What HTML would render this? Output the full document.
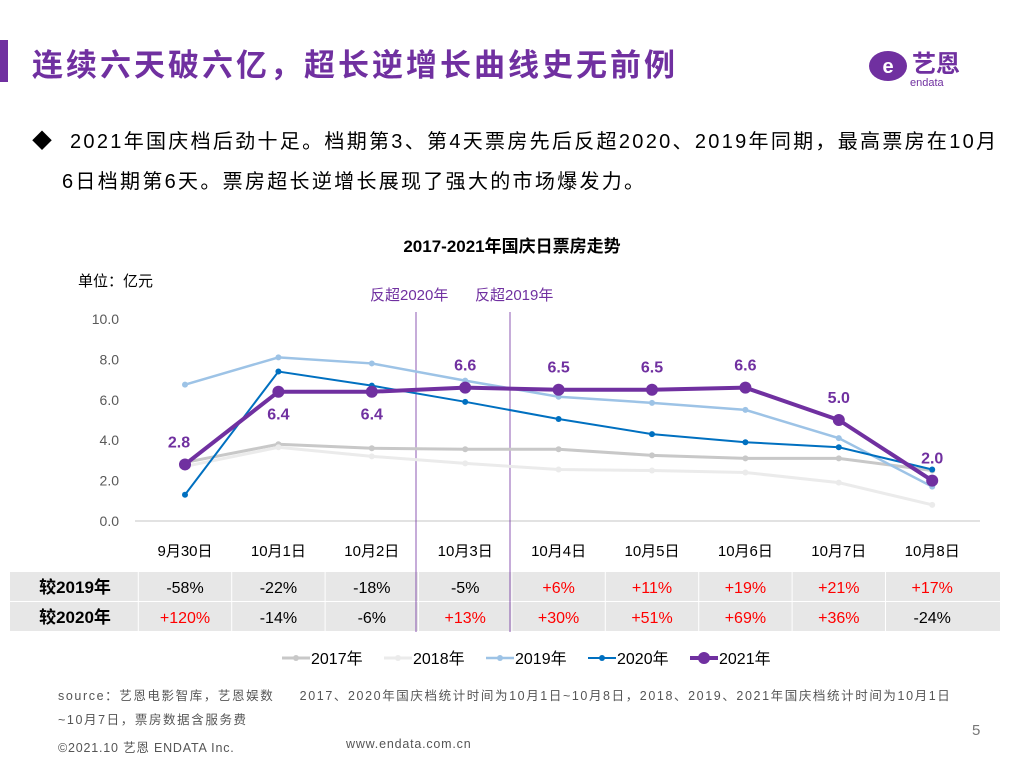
<!DOCTYPE html>
<html><head><meta charset="utf-8"><style>
body{margin:0;width:1024px;height:768px;background:#fff;font-family:"Liberation Sans","Noto Sans CJK SC",sans-serif;position:relative;overflow:hidden}
.a{position:absolute;white-space:nowrap}
</style></head><body>
<div class="a" style="left:0;top:40px;width:8px;height:42px;background:#7030a0"></div>
<div class="a" style="left:32px;top:40px;font-size:31px;letter-spacing:3px;font-weight:bold;color:#7030a0">连续六天破六亿，超长逆增长曲线史无前例</div>
<div class="a" style="left:866px;top:40px;width:120px;height:50px">
<svg width="120" height="50"><ellipse cx="22" cy="26" rx="19" ry="15" fill="#7030a0"/><text x="22" y="33" font-size="20" fill="#fff" text-anchor="middle" font-family="Liberation Sans" font-weight="bold">e</text><text x="46" y="32" font-size="24" fill="#7030a0" font-weight="bold" font-family="Noto Sans CJK SC">艺恩</text><text x="44" y="46" font-size="11" fill="#7030a0" font-family="Liberation Sans">endata</text></svg></div>
<div class="a" style="left:32px;top:122px;font-size:20px;letter-spacing:2.3px;line-height:40px;color:#000;white-space:nowrap">◆&nbsp; 2021年国庆档后劲十足。档期第3、第4天票房先后反超2020、2019年同期，最高票房在10月<br><span style="padding-left:30px">6日档期第6天。票房超长逆增长展现了强大的市场爆发力。</span></div>
<div class="a" style="left:0;width:1024px;text-align:center;top:232px;font-size:17px;font-weight:bold;color:#000">2017-2021年国庆日票房走势</div>
<div class="a" style="left:78px;top:270px;font-size:15px">单位：亿元</div>
<svg class="a" style="left:0;top:0" width="1024" height="768" id="ch"></svg>
<div class="a" style="left:58px;top:684px;font-size:12.5px;letter-spacing:1.6px;color:#555;line-height:24px">source：艺恩电影智库，艺恩娱数&nbsp;&nbsp;&nbsp;&nbsp;&nbsp;2017、2020年国庆档统计时间为10月1日~10月8日，2018、2019、2021年国庆档统计时间为10月1日<br>~10月7日，票房数据含服务费</div>
<div class="a" style="left:58px;top:737px;font-size:12.5px;letter-spacing:0.8px;color:#555">©2021.10 艺恩 ENDATA Inc.</div>
<div class="a" style="left:346px;top:737px;font-size:12.5px;letter-spacing:0.8px;color:#555">www.endata.com.cn</div>
<div class="a" style="left:972px;top:722px;font-size:15px;color:#777">5</div>
<script>
const categories=["9月30日","10月1日","10月2日","10月3日","10月4日","10月5日","10月6日","10月7日","10月8日"];
const yTicks=[0,2,4,6,8,10];
const s2017=[2.9,3.8,3.6,3.55,3.55,3.25,3.1,3.1,2.5];
const s2018=[2.7,3.65,3.2,2.85,2.55,2.5,2.4,1.9,0.8];
const s2019=[6.75,8.1,7.8,6.95,6.15,5.85,5.5,4.1,1.7];
const s2020=[1.3,7.4,6.7,5.9,5.05,4.3,3.9,3.65,2.55];
const s2021=[2.8,6.4,6.4,6.6,6.5,6.5,6.6,5.0,2.0];
const vs2019=["-58%","-22%","-18%","-5%","+6%","+11%","+19%","+21%","+17%"];
const vs2020=["+120%","-14%","-6%","+13%","+30%","+51%","+69%","+36%","-24%"];
const NS="http://www.w3.org/2000/svg",svg=document.getElementById('ch');
const x=i=>185+i*93.4, y=v=>521-v*20.2;
function el(t,a,txt){const e=document.createElementNS(NS,t);for(const k in a)e.setAttribute(k,a[k]);if(txt!=null)e.textContent=txt;svg.appendChild(e);return e;}
let e;
yTicks.forEach(t=>{e=el('text',{x:119,y:y(t)+5,'text-anchor':'end','font-size':14,fill:'#595959'},t.toFixed(1));
});
e=el('line',{x1:135,x2:980,y1:521,y2:521,stroke:'#d9d9d9','stroke-width':1.5});

categories.forEach((c,i)=>{e=el('text',{x:x(i),y:556,'text-anchor':'middle','font-size':15,fill:'#000'},c);
});
for(let r=0;r<2;r++){const yy=572+r*30;
e=el('rect',{x:10,y:yy,width:990,height:29,fill:'#e7e7e7'});
e=el('text',{x:75,y:yy+21,'text-anchor':'middle','font-size':17,'font-weight':'bold'},r?"较2020年":"较2019年");

(r?vs2020:vs2019).forEach((v,i)=>{e=el('text',{x:x(i),y:yy+21,'text-anchor':'middle','font-size':16,fill:v[0]=='+'?'#ff0000':'#000'},v);
});}
for(let i=0;i<=8;i++){e=el('line',{x1:x(i)-46.7,x2:x(i)-46.7,y1:572,y2:631,stroke:'#fff','stroke-width':1});}
e=el('line',{x1:10,x2:1000,y1:601.5,y2:601.5,stroke:'#fff','stroke-width':1});
[[416,"反超2020年"],[510,"反超2019年"]].forEach(([xx,l],k)=>{
e=el('line',{x1:xx,x2:xx,y1:312,y2:632,stroke:'#7030a0','stroke-width':0.8});
e=el('text',{x:k?475:370,y:300,'font-size':15,fill:'#7030a0'},l);});
const series=[[s2017,'#c8c8c8',3,3,'2017'],[s2018,'#ebebeb',3,3,'2018'],[s2019,'#9dc3e6',2.5,3,'2019'],[s2020,'#0070c0',2,3,'2020'],[s2021,'#7030a0',4,6,'2021']];
series.forEach(([d,c,w,r,n])=>{
e=el('polyline',{points:d.map((v,i)=>x(i)+','+y(v)).join(' '),fill:'none',stroke:c,'stroke-width':w});

d.forEach((v,i)=>{e=el('circle',{cx:x(i),cy:y(v),r:r,fill:c});});});
s2021.forEach((v,i)=>{const below=(i==1||i==2);
e=el('text',{x:x(i),y:below?y(v)+28:y(v)-17,'text-anchor':'middle','font-size':16,'font-weight':'bold',fill:'#7030a0'},v.toFixed(1));
if(i==0)e.setAttribute('x',x(i)-6);
});
series.forEach(([d,c,w,r,n],k)=>{const lx=282+k*102;
e=el('line',{x1:lx,x2:lx+28,y1:658,y2:658,stroke:c,'stroke-width':w});
e=el('circle',{cx:lx+14,cy:658,r:r,fill:c});
e=el('text',{x:lx+29,y:664,'font-size':16,fill:'#000'},n+'年');});
</script>
</body></html>
